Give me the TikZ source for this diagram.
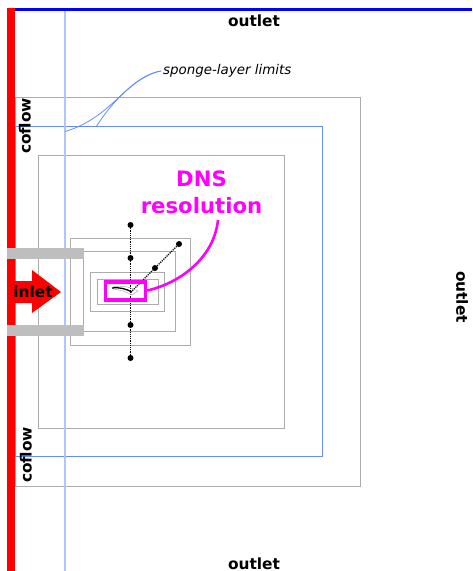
\documentclass[tikz,border=0pt]{standalone}
\usepackage{fontspec}
\setmainfont{DejaVu Sans}
\definecolor{boxgray}{RGB}{172,172,172}
\definecolor{barGray}{RGB}{190,190,190}
\definecolor{spongeblue}{RGB}{100,140,255}
\definecolor{spongelight}{RGB}{175,197,255}
\definecolor{mag}{RGB}{255,0,255}
\tikzset{
  px/.style={x=1pt,y=-1pt},
  graybox/.style={draw=boxgray,line width=1pt},
  bluebox/.style={draw=spongeblue,line width=1pt},
  bartext/.style={font=\bfseries\fontsize{15.4}{18}\selectfont,inner sep=0pt},
  dnslabel/.style={font=\bfseries\fontsize{21.2}{27}\selectfont,text=mag,align=center,inner sep=0pt},
  probe/.style={circle,fill=black,inner sep=0pt,minimum size=6pt},
  probeline/.style={densely dotted,line width=1.2pt,black},
  leader/.style={draw=spongeblue,line width=0.8pt},
}
\begin{document}
\begin{tikzpicture}[px]
\useasboundingbox (0,0) rectangle (472,571);
\fill[white] (0,0) rectangle (472,571);
% concentric boxes
\draw[graybox] (15,97.5) rectangle (360,486);
\draw[bluebox] (15,126.5) rectangle (322.5,456.5);
\draw[graybox] (38.5,155.5) rectangle (284.5,428.5);
\draw[graybox] (70.5,238.5) rectangle (190.5,345.5);
\draw[graybox] (83,251.5) rectangle (175.5,331.5);
\draw[graybox] (90.5,272.5) rectangle (164,311);
\draw[graybox] (97,279) rectangle (158,304);
% blue vertical limit
\draw[draw=spongelight,line width=1.4pt] (65,10) -- (65,571);
% walls
\fill[red] (7,8) rectangle (15,571);
\fill[blue] (15,8) rectangle (472,11);
\fill[barGray] (7,248) rectangle (84,259);
\fill[barGray] (7,325) rectangle (84,336);
% inlet arrow
\fill[red] (12,281) -- (32,281) -- (32,270) -- (61,292) -- (32,313) -- (32,303) -- (12,303) -- cycle;
\node[bartext,anchor=center] (inlet) at (33,292) {inlet};
% outlets and coflows
\node[bartext] (outtop) at (254,21) {outlet};
\node[bartext] (outbot) at (254,564) {outlet};
\node[bartext,rotate=-90] (outright) at (462,297) {outlet};
\node[bartext,rotate=90] (cotop) at (25,126) {coflow};
\node[bartext,rotate=90] (cobot) at (26,455) {coflow};
% sponge label and leaders
\node[font=\itshape\fontsize{13.4}{16}\selectfont,anchor=west,inner sep=0pt] (sponge) at (163,71) {sponge-layer limits};
\coordinate (spongeA) at (65,131.5);
\coordinate (spongeB) at (96,127);
\draw[leader] (161,71) .. controls (128,76) and (112,118) .. (spongeA);
\draw[leader] (161,71) .. controls (136,76) and (112,102) .. (spongeB);
% probes
\coordinate (jet) at (131,292);
\node[probe] (p1) at (130.5,225) {};
\node[probe] (p2) at (130.5,258) {};
\node[probe] (p3) at (130.5,325) {};
\node[probe] (p4) at (130.5,358) {};
\node[probe] (d1) at (179,244) {};
\node[probe] (d2) at (155,268) {};
\draw[probeline] (p1) -- (p4);
\draw[probeline] (d1) -- (jet);
% flame sketch
\draw[draw=boxgray,line width=0.5pt] (113,287) .. controls (122,285) and (130,287) .. (138,291) -- (132,295) .. controls (125,291) and (120,290) .. (113,289) -- cycle;
\draw[black,line width=1.3pt] (112,288) .. controls (120,287) and (126,289) .. (132,292);
% DNS box and label
\node[draw=mag,line width=3.6pt,minimum width=40pt,minimum height=18pt,inner sep=0pt] (dnsbox) at (125.5,291) {};
\node[dnslabel] (dns) at (201.5,192) {DNS\\resolution};
\draw[mag,line width=2.6pt] (dnsbox.east) ++(0,-0.5) coordinate (ms) .. controls (180,283) and (214,258) .. (218,220) coordinate (me);
\end{tikzpicture}
\end{document}
